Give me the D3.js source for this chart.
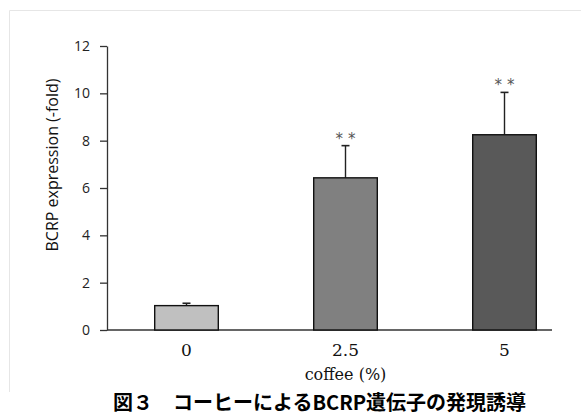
<!DOCTYPE html>
<html>
<head>
<meta charset="utf-8">
<script src="https://cdn.jsdelivr.net/npm/d3@7"></script>
<style>
  html, body { margin: 0; padding: 0; background: #fff; overflow: hidden; }
  svg { display: block; }
</style>
</head>
<body>
<svg></svg>
<script>
var width = 581;
var height = 417;

// data
var doses = ["0", "2.5", "5"];
var means = [1.03, 6.43, 8.25];
var sds = [0.10, 1.36, 1.79];
var marks = ["", "* *", "* *"];
var yTicks = [0, 2, 4, 6, 8, 10, 12];
var barColors = ["#c0c0c0", "#808080", "#595959"];

var svg = d3.select("svg")
    .attr("width", width)
    .attr("height", height)

// light frame of the chart area
svg.append("path")
    .attr("d", "M9.5,392 L9.5,10.5 L" + width + ",10.5")
    .attr("fill", "none")
    .attr("stroke", "#e6e6e6")
    .attr("stroke-width", 1)

var x = d3.scaleBand()
    .domain(doses)
    .range([107, 584])
    .paddingInner(0.6)
    .paddingOuter(0.3)

var y = d3.scaleLinear()
    .domain([0, 12])
    .range([330, 46])

// y axis
var yAxis = svg.append("g")
    .attr("transform", "translate(107,0)")
    .call(d3.axisLeft(y).tickValues(yTicks).tickSize(7).tickPadding(10).tickSizeOuter(0))

yAxis.select(".domain").attr("stroke", "#333").attr("stroke-width", 1.3)
yAxis.selectAll(".tick line").attr("stroke", "#333").attr("stroke-width", 1.3)
yAxis.selectAll("text")
    .attr("fill", "#222")
    .style("font-family", "'Open Sans', 'Noto Sans', sans-serif")
    .style("font-size", "14px")

// x axis baseline
svg.append("line")
    .attr("x1", 107)
    .attr("x2", 552)
    .attr("y1", y(0))
    .attr("y2", y(0))
    .attr("stroke", "#333")
    .attr("stroke-width", 1.3)

// bars
var bars = svg.selectAll("g.bar")
    .data(doses)
    .enter()
    .append("g")
    .attr("class", "bar");

bars.append("line")
    .attr("x1", function(d){ return x(d) + x.bandwidth() / 2; })
    .attr("x2", function(d){ return x(d) + x.bandwidth() / 2; })
    .attr("y1", function(d, i){ return y(means[i]); })
    .attr("y2", function(d, i){ return y(means[i] + sds[i]); })
    .attr("stroke", "#222")
    .attr("stroke-width", 1.4)

bars.append("line")
    .attr("x1", function(d){ return x(d) + x.bandwidth() / 2 - 4; })
    .attr("x2", function(d){ return x(d) + x.bandwidth() / 2 + 4; })
    .attr("y1", function(d, i){ return y(means[i] + sds[i]); })
    .attr("y2", function(d, i){ return y(means[i] + sds[i]); })
    .attr("stroke", "#222")
    .attr("stroke-width", 1.6)

bars.append("rect")
    .attr("x", function(d){ return x(d); })
    .attr("y", function(d, i){ return y(means[i]); })
    .attr("width", x.bandwidth())
    .attr("height", function(d, i){ return y(0) - y(means[i]); })
    .attr("fill", function(d, i){ return barColors[i]; })
    .attr("stroke", "#111")
    .attr("stroke-width", 1.4)

bars.append("text")
    .attr("x", function(d){ return x(d) + x.bandwidth() / 2; })
    .attr("y", function(d, i){ return y(means[i] + sds[i]) - 2; })
    .attr("text-anchor", "middle")
    .attr("fill", "#555")
    .style("font-family", "'DejaVu Sans', sans-serif")
    .style("font-size", "15px")
    .text(function(d, i){ return marks[i]; })

// x tick labels
bars.append("text")
    .attr("x", function(d){ return x(d) + x.bandwidth() / 2; })
    .attr("y", 356)
    .attr("text-anchor", "middle")
    .attr("fill", "#111")
    .style("font-family", "'DejaVu Serif', serif")
    .style("font-size", "17px")
    .text(function(d){ return d; })

svg.append("text")
    .attr("x", x("2.5") + x.bandwidth() / 2)
    .attr("y", 380)
    .attr("text-anchor", "middle")
    .attr("fill", "#111")
    .style("font-family", "'DejaVu Serif', serif")
    .style("font-size", "16px")
    .text("coffee (%)")

svg.append("text")
    .attr("transform", "translate(58,165) rotate(-90)")
    .attr("text-anchor", "middle")
    .attr("fill", "#111")
    .style("font-family", "'Open Sans', 'Noto Sans', sans-serif")
    .style("font-size", "16px")
    .text("BCRP expression (-fold)")

// figure caption
svg.append("text")
    .attr("x", 113)
    .attr("y", 410)
    .attr("fill", "#000")
    .style("font-family", "'Noto Sans CJK JP', sans-serif")
    .style("font-weight", "bold")
    .style("font-size", "20px")
    .text("図３　コーヒーによるBCRP遺伝子の発現誘導")
</script>
</body>
</html>
